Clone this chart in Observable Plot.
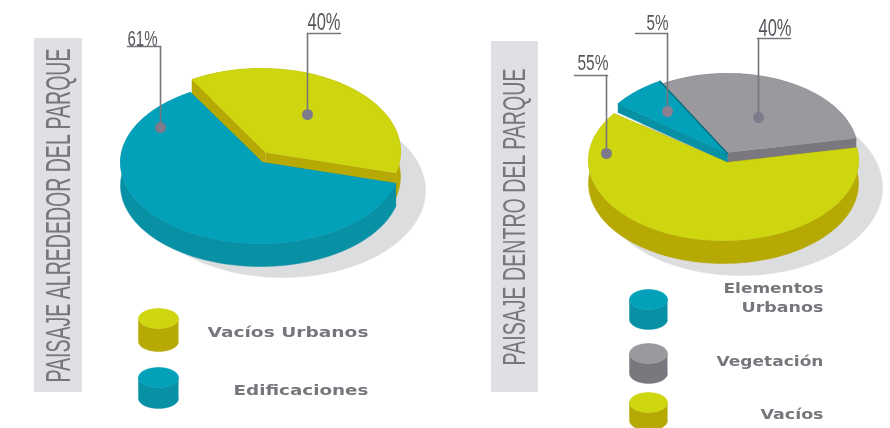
<!DOCTYPE html>
<html>
<head>
<meta charset="utf-8">
<style>html,body{margin:0;padding:0;background:#fff}svg{display:block;filter:blur(0.45px)}</style>
<script src="https://cdn.jsdelivr.net/npm/d3@7"></script>
<script src="https://cdn.jsdelivr.net/npm/@observablehq/plot@0.6"></script>
</head>
<body>
<div id="chart"></div>
<script>
// ---- values ----
const titles = ["PAISAJE ALREDEDOR DEL PARQUE", "PAISAJE DENTRO DEL PARQUE"];
const leftCategories = ["Vacíos Urbanos", "Edificaciones"];
const leftLabels = [40, 61];
const leftDrawnShare = [37.5, 62.5];          // share of the circle as actually drawn
const rightCategories = ["Vegetación", "Vacíos", "Elementos Urbanos"];
const rightLabels = [40, 55, 5];
const rightDrawnShare = [30.8, 62.5, 6.7];

// ---- styles ----
const C = {
  yellow: ["#cdd60e", "#b6a904"],
  teal: ["#02a0b9", "#0890a5"],
  gray: ["#9b999e", "#7a787e"],
  shadow: "#dcdddf", panel: "#dfe0e3", ink: "#77767c", dot: "#7d7a8a"
};
const NARROW = "'Liberation Sans',sans-serif";
const WIDE = "'DejaVu Sans',sans-serif";

// ---- layout ----
const startAngle = -30;
const leftPie = {
  shadow: {cx: 282, cy: 190, rx: 143, ry: 87},
  slices: [
    {i: 0, color: C.yellow, cx: 261, cy: 151, rx: 139, ry: 83, ax: 265, ay: 152, depth: 25},
    {i: 1, color: C.teal, cx: 260, cy: 162, rx: 140, ry: 81, ax: 262, ay: 162, depth: 23}
  ]
};
const rightPie = {
  shadow: {cx: 740, cy: 187, rx: 142, ry: 88},
  slices: [
    {i: 0, color: C.gray, cx: 727, cy: 150, rx: 130, ry: 77, ax: 727, ay: 152, depth: 11},
    {i: 2, color: C.teal, cx: 727, cy: 150, rx: 135, ry: 80, ax: 727, ay: 153, depth: 9, edge: "#0a6f80"},
    {i: 1, color: C.yellow, cx: 723, cy: 160, rx: 135, ry: 80, ax: 727, ay: 162, depth: 23}
  ]
};

// ---- geometry helpers ----
const rad = d => d * Math.PI / 180;
const onEllipse = (s, t, dy = 0) => ({x: s.cx + s.rx * Math.sin(rad(t)), y: s.cy - s.ry * Math.cos(rad(t)) + dy});
function arc(s, t0, t1, dy = 0) {
  const n = Math.max(2, Math.ceil(Math.abs(t1 - t0) / 2));
  return d3.range(n + 1).map(k => onEllipse(s, t0 + (t1 - t0) * k / n, dy));
}
const poly = (pts, fill) => Plot.line(pts, {x: "x", y: "y", fill, stroke: fill, strokeWidth: 0.5, curve: "linear"});
function ranges(shares) {
  let a = startAngle;
  return shares.map(v => { const r = [a, a + v * 3.6]; a = r[1]; return r; });
}
function pieMarks(pie, shares) {
  const rs = ranges(shares), out = [];
  out.push(poly(arc(pie.shadow, 0, 360), C.shadow));
  for (const s of pie.slices) {
    const [t0, t1] = rs[s.i];
    const apex = {x: s.ax, y: s.ay}, apexD = {x: s.ax, y: s.ay + s.depth};
    const top = arc(s, t0, t1), low = arc(s, t1, t0, s.depth);
    const a0 = top[0], a1 = top[top.length - 1];
    out.push(poly([...top, ...low], s.color[1]));
    out.push(poly([apex, a0, {x: a0.x, y: a0.y + s.depth}, apexD], s.color[1]));
    out.push(poly([apex, a1, {x: a1.x, y: a1.y + s.depth}, apexD], s.color[1]));
    out.push(poly([apex, ...top], s.color[0]));
    if (s.edge) out.push(Plot.line([a1, apex], {x: "x", y: "y", stroke: s.edge, strokeWidth: 1.5}));
  }
  return out;
}
// text fitted to a length; stretch makes the letters taller without widening them
function fitted(text, o, length, stretch = 1) {
  return Plot.text([text], {
    text: d => d, ...o,
    render(index, scales, values, dims, ctx, next) {
      const g = next(index, scales, values, dims, ctx);
      d3.select(g).selectAll("text")
        .attr("textLength", length).attr("lengthAdjust", "spacingAndGlyphs")
        .attr("transform", function () {
          return `${this.getAttribute("transform") || ""} scale(1,${stretch})`;
        });
      return g;
    }
  });
}
function leader(xs, y, dotY, label, lx, ly, lw, dotFill) {
  const [x0, x1, xv] = xs;
  return [
    Plot.line([{x: x0, y}, {x: x1, y}], {x: "x", y: "y", stroke: C.ink, strokeWidth: 1.6}),
    Plot.line([{x: xv, y}, {x: xv, y: dotY}], {x: "x", y: "y", stroke: C.ink, strokeWidth: 1.6}),
    Plot.dot([{x: xv, y: dotY}], {x: "x", y: "y", r: 5.5, fill: dotFill || C.dot, stroke: "none"}),
    fitted(label + "%", {x: lx, y: ly, textAnchor: "start", lineAnchor: "bottom", fontFamily: NARROW, fontSize: lw / (String(label).length * 0.556 + 0.889), fill: "#55545a"}, lw, 1.47)
  ];
}
function cylinder(cx, top, bottom, rx, ry, color) {
  const s = {cx, cy: top + ry, rx, ry};
  const depth = bottom - top - 2 * ry;
  return [
    poly([...arc(s, 90, 270, depth), ...arc(s, 270, 90)], color[1]),
    poly(arc(s, 0, 360), color[0])
  ];
}
const legendText = (t, right, y, w) => fitted(t, {
  x: right, y, textAnchor: "end", lineAnchor: "middle",
  fontFamily: WIDE, fontWeight: 700, fontSize: 14, fill: C.ink
}, w);

const panel = (x1, x2, y1, y2) => Plot.rect([{x1, x2, y1, y2}], {x1: "x1", x2: "x2", y1: "y1", y2: "y2", fill: C.panel});
const title = (t, x, y, size, len, stretch) => fitted(t, {
  x, y, rotate: -90, textAnchor: "start", lineAnchor: "middle",
  fontFamily: NARROW, fontSize: size, fill: C.ink
}, len, stretch);

const chart = Plot.plot({
  width: 890, height: 428, margin: 0,
  style: {background: "#fff", overflow: "hidden"},
  x: {domain: [0, 890], range: [0, 890], axis: null},
  y: {domain: [0, 428], range: [0, 428], axis: null},
  marks: [
    panel(34, 82, 38, 392),
    panel(491, 538, 41, 392),
    title(titles[0], 58, 382, 19.5, 334, 1.78),
    title(titles[1], 514, 365, 19.3, 297, 1.62),

    ...pieMarks(leftPie, leftDrawnShare),
    ...pieMarks(rightPie, rightDrawnShare),

    ...leader([127, 160, 160], 46, 127, leftLabels[1], 127, 45, 30),
    ...leader([307, 340, 307], 33, 114, leftLabels[0], 307, 29, 33),
    ...leader([574, 607, 606], 75, 153, rightLabels[1], 577, 69, 31),
    ...leader([635, 667, 667], 33, 111, rightLabels[2], 646, 29, 22, "#8b7f90"),
    ...leader([757, 790, 758], 38, 117, rightLabels[0], 758, 35, 33),

    ...cylinder(158, 308, 351, 20, 10, C.yellow),
    ...cylinder(158, 367, 408, 20, 10, C.teal),
    ...cylinder(648, 289, 329, 19, 10, C.teal),
    ...cylinder(648, 343, 383, 19, 10, C.gray),
    ...cylinder(648, 392, 430, 19, 10, C.yellow),

    legendText(leftCategories[0], 368, 332, 161),
    legendText(leftCategories[1], 368, 390, 135),
    legendText("Elementos", 823, 288, 100),
    legendText("Urbanos", 823, 307, 82),
    legendText(rightCategories[0], 823, 361, 107),
    legendText("Vacíos", 823, 414, 63)
  ]
});
document.getElementById("chart").appendChild(chart);
</script>
</body>
</html>
